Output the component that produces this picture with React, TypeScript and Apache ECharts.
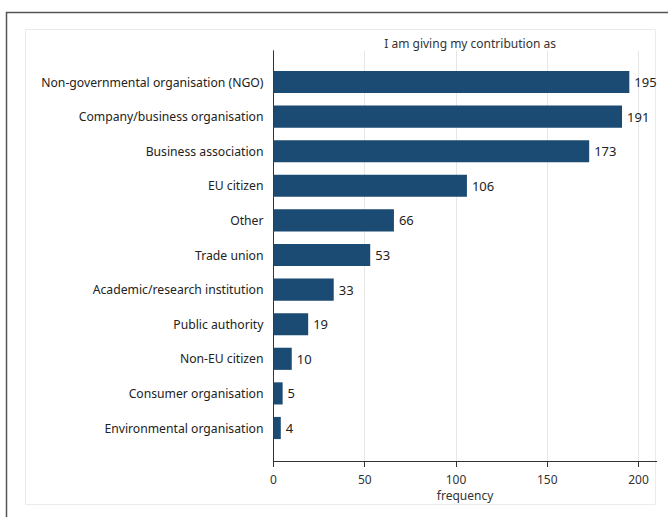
import React, { useEffect, useRef } from "react";
import * as echarts from "echarts";

const categories = [
  "Non-governmental organisation (NGO)",
  "Company/business organisation",
  "Business association",
  "EU citizen",
  "Other",
  "Trade union",
  "Academic/research institution",
  "Public authority",
  "Non-EU citizen",
  "Consumer organisation",
  "Environmental organisation",
];
const frequency = [195, 191, 173, 106, 66, 53, 33, 19, 10, 5, 4];
const xTicks = [0, 50, 100, 150, 200];
const titleText = "I am giving my contribution as";
const xName = "frequency";

const FONT = "Noto Sans";

export default function App() {
  const ref = useRef<HTMLDivElement>(null);
  useEffect(() => {
    if (!ref.current) return;
    const chart = echarts.init(ref.current, undefined, { renderer: "svg" });
    const L = 273.5, R = 656.7;
    const W = R - L;
    chart.setOption({
      animation: false,
      backgroundColor: "#ffffff",
      textStyle: { fontFamily: FONT },
      title: {
        text: titleText,
        left: (L + R) / 2,
        top: 32,
        textAlign: "center",
        textStyle: { fontFamily: FONT, fontSize: 12, fontWeight: "normal", color: "#333" },
      },
      graphic: [
        {
          type: "polyline",
          shape: { points: [[6.5, 517], [6.5, 12.5], [668, 12.5]] },
          style: { stroke: "#555", lineWidth: 1.5, fill: "none" },
          silent: true,
        },
        {
          type: "rect",
          shape: { x: 25.5, y: 29.5, width: 630, height: 475 },
          style: { stroke: "#ebebeb", lineWidth: 1, fill: "none" },
          silent: true,
        },
      ],
      grid: [
        { left: L, top: 50.7, width: W, height: 410.3 },
        { left: L, top: 64.7, width: W, height: 380.6 },
      ],
      xAxis: [
        {
          gridIndex: 0,
          type: "value",
          min: 0,
          max: 210,
          interval: 50,
          name: xName,
          nameLocation: "middle",
          nameGap: 27,
          nameTextStyle: { fontFamily: FONT, fontSize: 12, color: "#333" },
          axisLine: { show: true, lineStyle: { color: "#333", width: 1 } },
          axisTick: { show: true, length: 6, lineStyle: { color: "#333" }, customValues: xTicks },
          axisLabel: {
            show: true,
            fontFamily: FONT,
            fontSize: 12,
            color: "#333",
            margin: 12,
            customValues: xTicks,
          },
          splitLine: { show: true, lineStyle: { color: "#e6e6e6", width: 1 } },
        },
        {
          gridIndex: 1,
          type: "value",
          min: 0,
          max: 210,
          show: false,
        },
      ],
      yAxis: [
        {
          gridIndex: 0,
          type: "value",
          min: 0,
          max: 1,
          axisLine: { show: true, lineStyle: { color: "#333", width: 1 } },
          axisTick: { show: false },
          axisLabel: { show: false },
          splitLine: { show: false },
        },
        {
          gridIndex: 1,
          type: "category",
          inverse: true,
          data: categories,
          axisLine: { show: false },
          axisTick: { show: false },
          axisLabel: { fontFamily: FONT, fontSize: 12.2, color: "#222", margin: 10 },
          splitLine: { show: false },
        },
      ],
      series: [
        {
          type: "bar",
          xAxisIndex: 1,
          yAxisIndex: 1,
          data: frequency,
          barCategoryGap: "36%",
          itemStyle: { color: "#1b4a72" },
          label: {
            show: true,
            position: "right",
            distance: 5,
            fontFamily: FONT,
            fontSize: 13,
            color: "#222",
          },
        },
      ],
    });
    return () => chart.dispose();
  }, []);
  return (
    <div
      ref={ref}
      style={{ position: "absolute", left: 0, top: 0, width: 668, height: 517 }}
    />
  );
}
